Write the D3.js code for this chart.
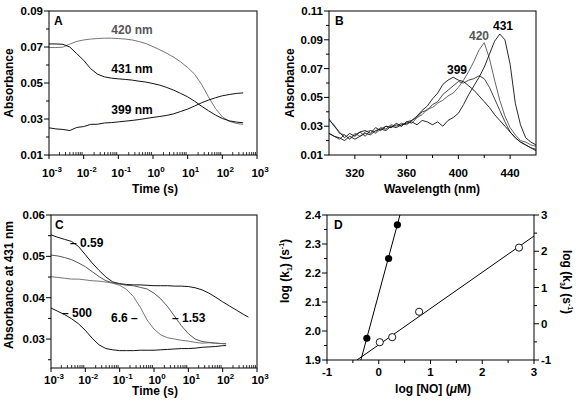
<!DOCTYPE html>
<html><head><meta charset="utf-8">
<script src="https://cdn.jsdelivr.net/npm/d3@7"></script>
<style>
html,body{margin:0;padding:0;background:#fff;}
svg text{font-family:"Liberation Sans",Arial,sans-serif;font-weight:bold;}
</style></head>
<body><svg id="c" width="576" height="403"></svg>
<script>
// ---------- DATA ----------
// Panel A: time course at three wavelengths
const timesA = [0.001,0.00158,0.00251,0.00398,0.00631,0.01,0.0158,0.0251,0.0398,0.0631,0.1,0.158,0.251,0.398,0.631,1,1.58,2.51,3.98,6.31,10,15.8,25.1,39.8,63.1,100,158,251,398];
const absA420 = [0.0697,0.0697,0.0699,0.0716,0.0731,0.0739,0.0744,0.0747,0.0749,0.0749,0.0747,0.0744,0.0739,0.0730,0.0719,0.0702,0.0684,0.0665,0.0643,0.0617,0.0586,0.0549,0.0493,0.0423,0.0359,0.0312,0.0287,0.0276,0.0270];
const absA431 = [0.0717,0.0717,0.0715,0.0700,0.0663,0.0626,0.0580,0.0549,0.0534,0.0527,0.0523,0.0520,0.0516,0.0510,0.0505,0.0497,0.0488,0.0475,0.0460,0.0442,0.0423,0.0399,0.0371,0.0346,0.0322,0.0303,0.0290,0.0283,0.0279];
const absA399 = [0.0251,0.0245,0.0242,0.0236,0.0253,0.0258,0.0270,0.0271,0.0278,0.0280,0.0284,0.0288,0.0292,0.0297,0.0303,0.0309,0.0314,0.0320,0.0329,0.0342,0.0355,0.0372,0.0390,0.0405,0.0418,0.0429,0.0436,0.0442,0.0445];
const seriesALabels = ["420 nm","431 nm","399 nm"];

// Panel B: spectra
const wavelengthsB = [300,304,308,312,316,320,324,328,332,336,340,344,348,352,356,360,364,368,372,376,380,384,388,392,396,400,404,408,412,416,420,424,428,432,436,440,444,448,452,456,460];
const specB399 = [0.035,0.030,0.026,0.022,0.025,0.023,0.026,0.027,0.025,0.029,0.027,0.030,0.029,0.032,0.030,0.033,0.034,0.037,0.041,0.044,0.049,0.053,0.059,0.062,0.064,0.062,0.061,0.058,0.055,0.051,0.047,0.043,0.038,0.034,0.030,0.026,0.022,0.019,0.017,0.015,0.013];
const specB420 = [0.034,0.031,0.025,0.024,0.021,0.025,0.023,0.026,0.027,0.025,0.028,0.030,0.029,0.031,0.030,0.033,0.032,0.036,0.038,0.042,0.043,0.046,0.048,0.051,0.053,0.057,0.062,0.068,0.075,0.083,0.088,0.077,0.062,0.048,0.037,0.029,0.024,0.020,0.019,0.017,0.016];
const specBmid = [0.025,0.023,0.021,0.024,0.021,0.024,0.026,0.023,0.027,0.026,0.029,0.028,0.031,0.030,0.032,0.031,0.034,0.036,0.040,0.041,0.045,0.047,0.052,0.055,0.058,0.061,0.060,0.062,0.063,0.065,0.063,0.057,0.049,0.041,0.033,0.026,0.022,0.019,0.017,0.015,0.014];
const specB431 = [0.025,0.023,0.022,0.020,0.023,0.021,0.023,0.025,0.024,0.027,0.028,0.027,0.030,0.029,0.031,0.032,0.033,0.031,0.034,0.033,0.031,0.033,0.030,0.034,0.036,0.039,0.045,0.052,0.058,0.064,0.071,0.080,0.089,0.094,0.090,0.073,0.046,0.031,0.022,0.019,0.017];

// Panel C: absorbance at 431 nm for several [NO]
const timesC = [0.001,0.00158,0.00251,0.00398,0.00631,0.01,0.0158,0.0251,0.0398,0.0631,0.1,0.158,0.251,0.398,0.631,1,1.58,2.51,3.98,6.31,10,15.8,25.1,39.8,63.1,100,126];
const timesC059 = [0.001,0.00158,0.00251,0.00398,0.00631,0.01,0.0158,0.0251,0.0398,0.0631,0.1,0.158,0.251,0.398,0.631,1,1.58,2.51,3.98,6.31,10,15.8,25.1,39.8,63.1,100,158,251,398,562];
const absC059 = [0.0552,0.0546,0.0541,0.0536,0.0524,0.0504,0.0484,0.0466,0.0450,0.0438,0.0434,0.0432,0.0431,0.0431,0.0430,0.0429,0.0429,0.0429,0.0428,0.0428,0.0427,0.0424,0.0419,0.0411,0.0401,0.0390,0.0380,0.0370,0.0360,0.0353];
const absC153 = [0.0503,0.0501,0.0497,0.0492,0.0484,0.0475,0.0463,0.0451,0.0441,0.0436,0.0433,0.0430,0.0429,0.0425,0.0421,0.0411,0.0397,0.0378,0.0355,0.0332,0.0313,0.0300,0.0294,0.0292,0.0290,0.0289,0.0289];
const absC66 = [0.0451,0.0449,0.0447,0.0445,0.0445,0.0443,0.0441,0.0440,0.0438,0.0435,0.0430,0.0420,0.0403,0.0377,0.0346,0.0324,0.0310,0.0303,0.0300,0.0297,0.0295,0.0292,0.0290,0.0291,0.0290,0.0289,0.0288];
const absC500 = [0.0375,0.0367,0.0359,0.0349,0.0337,0.0321,0.0302,0.0286,0.0277,0.0274,0.0272,0.0272,0.0272,0.0273,0.0273,0.0273,0.0274,0.0275,0.0276,0.0277,0.0277,0.0278,0.0280,0.0281,0.0282,0.0284,0.0284];
const seriesCLabels = ["\u2013 0.59","\u2013 1.53","6.6 \u2013","\u2013 500"];

// Panel D: rate constants vs log[NO]
const logNO_k1 = [-0.23,0.19,0.36];
const logk1 = [1.975,2.25,2.366];
const logNO_k3 = [0.02,0.26,0.78,2.71];
const logk3 = [-0.51,-0.37,0.33,2.10];
const fitK1X = [-0.345,0.41], fitK1Y = [1.9,2.4];
const fitK3X = [-0.42,3.0], fitK3Y = [-1.0,2.42];

// tick values
const logTicks = [1e-3,1e-2,1e-1,1,10,100,1000];
const logExps = ["-3","-2","-1","0","1","2","3"];
const ticksAY = [0.01,0.03,0.05,0.07,0.09];
const ticksBX = [320,360,400,440];
const ticksBY = [0.01,0.03,0.05,0.07,0.09,0.11];
const ticksCY = [0.03,0.04,0.05,0.06];
const ticksDX = [-1,0,1,2,3];
const ticksDY = [1.9,2.0,2.1,2.2,2.3,2.4];
const ticksDY2 = [-1,0,1,2,3];

// ---------- DRAW ----------
const svg = d3.select("#c");
const FS = 11.5;

function frame(g, x0, x1, y0, y1){
  g.append("rect").attr("x",x0).attr("y",y0).attr("width",x1-x0).attr("height",y1-y0)
   .attr("fill","none").attr("stroke","#000").attr("stroke-width",1);
}
function yTicks(g, y, x0, vals, fmt, minor){
  vals.forEach(v=>{
    g.append("line").attr("x1",x0-5).attr("x2",x0).attr("y1",y(v)).attr("y2",y(v)).attr("stroke","#000");
    g.append("text").attr("x",x0-6).attr("y",y(v)+4).attr("text-anchor","end").attr("font-size",FS).text(fmt(v));
  });
  (minor||[]).forEach(v=>{
    g.append("line").attr("x1",x0-3).attr("x2",x0).attr("y1",y(v)).attr("y2",y(v)).attr("stroke","#000");
  });
}
function logXAxis(g, x, yb, labY){
  logTicks.forEach((v,i)=>{
    g.append("line").attr("x1",x(v)).attr("x2",x(v)).attr("y1",yb).attr("y2",yb+4).attr("stroke","#000");
    const t = g.append("text").attr("x",x(v)+3).attr("y",labY).attr("text-anchor","middle").attr("font-size",FS);
    t.append("tspan").text("10");
    t.append("tspan").attr("font-size",8).attr("dy",-5).text(logExps[i]);
  });
  for(let k=0;k<6;k++){
    for(let m=2;m<10;m++){
      const v = logTicks[k]*m;
      g.append("line").attr("x1",x(v)).attr("x2",x(v)).attr("y1",yb).attr("y2",yb-3).attr("stroke","#000").attr("stroke-width",0.8);
    }
  }
}
function title(g, x, y, txt, rot){
  const t = g.append("text").attr("font-size",12).attr("text-anchor","middle")
    .attr("transform",`translate(${x},${y}) rotate(${rot||0})`);
  if(typeof txt==="string") t.text(txt); else txt(t);
  return t;
}
function clipRect(id,x0,x1,y0,y1){
  svg.append("clipPath").attr("id",id).append("rect").attr("x",x0).attr("y",y0).attr("width",x1-x0).attr("height",y1-y0);
}
function pathOf(g, xs, ys, x, y, color, w){
  const line = d3.line().x((d,i)=>x(xs[i])).y(d=>y(d));
  g.append("path").attr("d",line(ys)).attr("fill","none").attr("stroke",color).attr("stroke-width",w||1);
}

// Panel A
(function(){
  const L=49,R=257,T=11,B=155;
  const g = svg.append("g");
  const x = d3.scaleLog().domain([1e-3,1e3]).range([L,R]);
  const y = d3.scaleLinear().domain([0.01,0.09]).range([B,T]);
  pathOf(g,timesA,absA420,x,y,"#666",0.9);
  pathOf(g,timesA,absA431,x,y,"#111",1);
  pathOf(g,timesA,absA399,x,y,"#111",1);
  frame(g,L,R,T,B);
  yTicks(g,y,L,ticksAY,d3.format(".2f"),[0.02,0.04,0.06,0.08]);
  logXAxis(g,x,B,177);
  title(g,155,193,"Time (s)");
  title(g,13,83,"Absorbance",-90);
  g.append("text").attr("x",54).attr("y",25).attr("font-size",12).text("A");
  g.append("text").attr("x",132).attr("y",34).attr("font-size",12).attr("text-anchor","middle").attr("fill","#555").text(seriesALabels[0]);
  g.append("text").attr("x",132).attr("y",73).attr("font-size",12).attr("text-anchor","middle").text(seriesALabels[1]);
  g.append("text").attr("x",132).attr("y",114).attr("font-size",12).attr("text-anchor","middle").text(seriesALabels[2]);
})();

// Panel B
(function(){
  const L=329,R=536,T=11,B=155;
  const g = svg.append("g");
  const x = d3.scaleLinear().domain([300,460]).range([L,R]);
  const y = d3.scaleLinear().domain([0.01,0.11]).range([B,T]);
  clipRect("clipB",L,R,T,B);
  const gp = g.append("g").attr("clip-path","url(#clipB)");
  pathOf(gp,wavelengthsB,specBmid,x,y,"#333",0.9);
  pathOf(gp,wavelengthsB,specB420,x,y,"#555",0.9);
  pathOf(gp,wavelengthsB,specB399,x,y,"#111",0.9);
  pathOf(gp,wavelengthsB,specB431,x,y,"#111",0.9);
  frame(g,L,R,T,B);
  yTicks(g,y,L,ticksBY,d3.format(".2f"),[0.02,0.04,0.06,0.08,0.10]);
  ticksBX.forEach(v=>{
    g.append("line").attr("x1",x(v)).attr("x2",x(v)).attr("y1",B).attr("y2",B+4).attr("stroke","#000");
    g.append("text").attr("x",x(v)).attr("y",177).attr("text-anchor","middle").attr("font-size",FS).text(v);
  });
  [340,380,420].forEach(v=>{
    g.append("line").attr("x1",x(v)).attr("x2",x(v)).attr("y1",B).attr("y2",B+3).attr("stroke","#000");
  });
  title(g,432,193,"Wavelength (nm)");
  title(g,294,83,"Absorbance",-90);
  g.append("text").attr("x",335).attr("y",25).attr("font-size",12).text("B");
  g.append("text").attr("x",503).attr("y",30).attr("font-size",12).attr("text-anchor","middle").text("431");
  g.append("text").attr("x",479).attr("y",40).attr("font-size",12).attr("text-anchor","middle").attr("fill","#555").text("420");
  g.append("text").attr("x",457).attr("y",74).attr("font-size",12).attr("text-anchor","middle").text("399");
})();

// Panel C
(function(){
  const L=51,R=257,T=215,B=368;
  const g = svg.append("g");
  const x = d3.scaleLog().domain([1e-3,1e3]).range([L,R]);
  const y = d3.scaleLinear().domain([0.023,0.06]).range([B,T]);
  pathOf(g,timesC059,absC059,x,y,"#111",1);
  pathOf(g,timesC,absC153,x,y,"#444",0.9);
  pathOf(g,timesC,absC66,x,y,"#666",0.9);
  pathOf(g,timesC,absC500,x,y,"#111",1);
  frame(g,L,R,T,B);
  yTicks(g,y,L,ticksCY,d3.format(".2f"),[0.025,0.035,0.045,0.055]);
  logXAxis(g,x,B,384);
  title(g,155,395,"Time (s)");
  title(g,13,285,"Absorbance at 431 nm",-90);
  g.append("text").attr("x",55).attr("y",229).attr("font-size",12).text("C");
  g.append("text").attr("x",70).attr("y",247).attr("font-size",12).text(seriesCLabels[0]);
  g.append("text").attr("x",172).attr("y",322).attr("font-size",12).text(seriesCLabels[1]);
  g.append("text").attr("x",111).attr("y",322).attr("font-size",12).text(seriesCLabels[2]);
  g.append("text").attr("x",62).attr("y",317).attr("font-size",12).text(seriesCLabels[3]);
})();

// Panel D
(function(){
  const L=327,R=534,T=215,B=360;
  const g = svg.append("g");
  const x = d3.scaleLinear().domain([-1,3]).range([L,R]);
  const y = d3.scaleLinear().domain([1.9,2.4]).range([B,T]);
  const y2 = d3.scaleLinear().domain([-1,3]).range([B,T]);
  clipRect("clipD",L,R,T,B);
  const gp = g.append("g").attr("clip-path","url(#clipD)");
  gp.append("line").attr("x1",x(fitK1X[0])).attr("x2",x(fitK1X[1])).attr("y1",y(fitK1Y[0])).attr("y2",y(fitK1Y[1])).attr("stroke","#000").attr("stroke-width",1);
  gp.append("line").attr("x1",x(fitK3X[0])).attr("x2",x(fitK3X[1])).attr("y1",y2(fitK3Y[0])).attr("y2",y2(fitK3Y[1])).attr("stroke","#000").attr("stroke-width",1);
  logNO_k1.forEach((v,i)=>{
    gp.append("circle").attr("cx",x(v)).attr("cy",y(logk1[i])).attr("r",3.6).attr("fill","#000");
  });
  logNO_k3.forEach((v,i)=>{
    gp.append("circle").attr("cx",x(v)).attr("cy",y2(logk3[i])).attr("r",3.6).attr("fill","#fff").attr("stroke","#000").attr("stroke-width",0.9);
  });
  frame(g,L,R,T,B);
  yTicks(g,y,L,ticksDY,d3.format(".1f"),[1.95,2.05,2.15,2.25,2.35]);
  ticksDY2.forEach(v=>{
    g.append("line").attr("x1",R).attr("x2",R+5).attr("y1",y2(v)).attr("y2",y2(v)).attr("stroke","#000");
    g.append("text").attr("x",R+7).attr("y",y2(v)+4).attr("font-size",FS).text(v);
  });
  [-0.5,0.5,1.5,2.5].forEach(v=>{
    g.append("line").attr("x1",R).attr("x2",R+3).attr("y1",y2(v)).attr("y2",y2(v)).attr("stroke","#000");
  });
  ticksDX.forEach(v=>{
    g.append("line").attr("x1",x(v)).attr("x2",x(v)).attr("y1",B).attr("y2",B+4).attr("stroke","#000");
    g.append("text").attr("x",x(v)).attr("y",376).attr("text-anchor","middle").attr("font-size",FS).text(v);
  });
  [-0.5,0.5,1.5,2.5].forEach(v=>{
    g.append("line").attr("x1",x(v)).attr("x2",x(v)).attr("y1",B).attr("y2",B+3).attr("stroke","#000");
  });
  title(g,433,393,t=>{
    t.append("tspan").text("log [NO] (");
    t.append("tspan").attr("font-style","italic").text("\u03bc");
    t.append("tspan").text("M)");
  });
  title(g,289,271,t=>{
    t.append("tspan").text("log (k");
    t.append("tspan").attr("font-size",7).attr("dy",3).text("1");
    t.append("tspan").attr("dy",-3).text(") (s");
    t.append("tspan").attr("font-size",7).attr("dy",-5).text("-1");
    t.append("tspan").attr("dy",5).text(")");
  },-90);
  title(g,563,282,t=>{
    t.append("tspan").text("log (k");
    t.append("tspan").attr("font-size",7).attr("dy",3).text("3");
    t.append("tspan").attr("dy",-3).text(") (s");
    t.append("tspan").attr("font-size",7).attr("dy",-5).text("-1");
    t.append("tspan").attr("dy",5).text(")");
  },90);
  g.append("text").attr("x",334).attr("y",229).attr("font-size",12).text("D");
})();
</script></body></html>
